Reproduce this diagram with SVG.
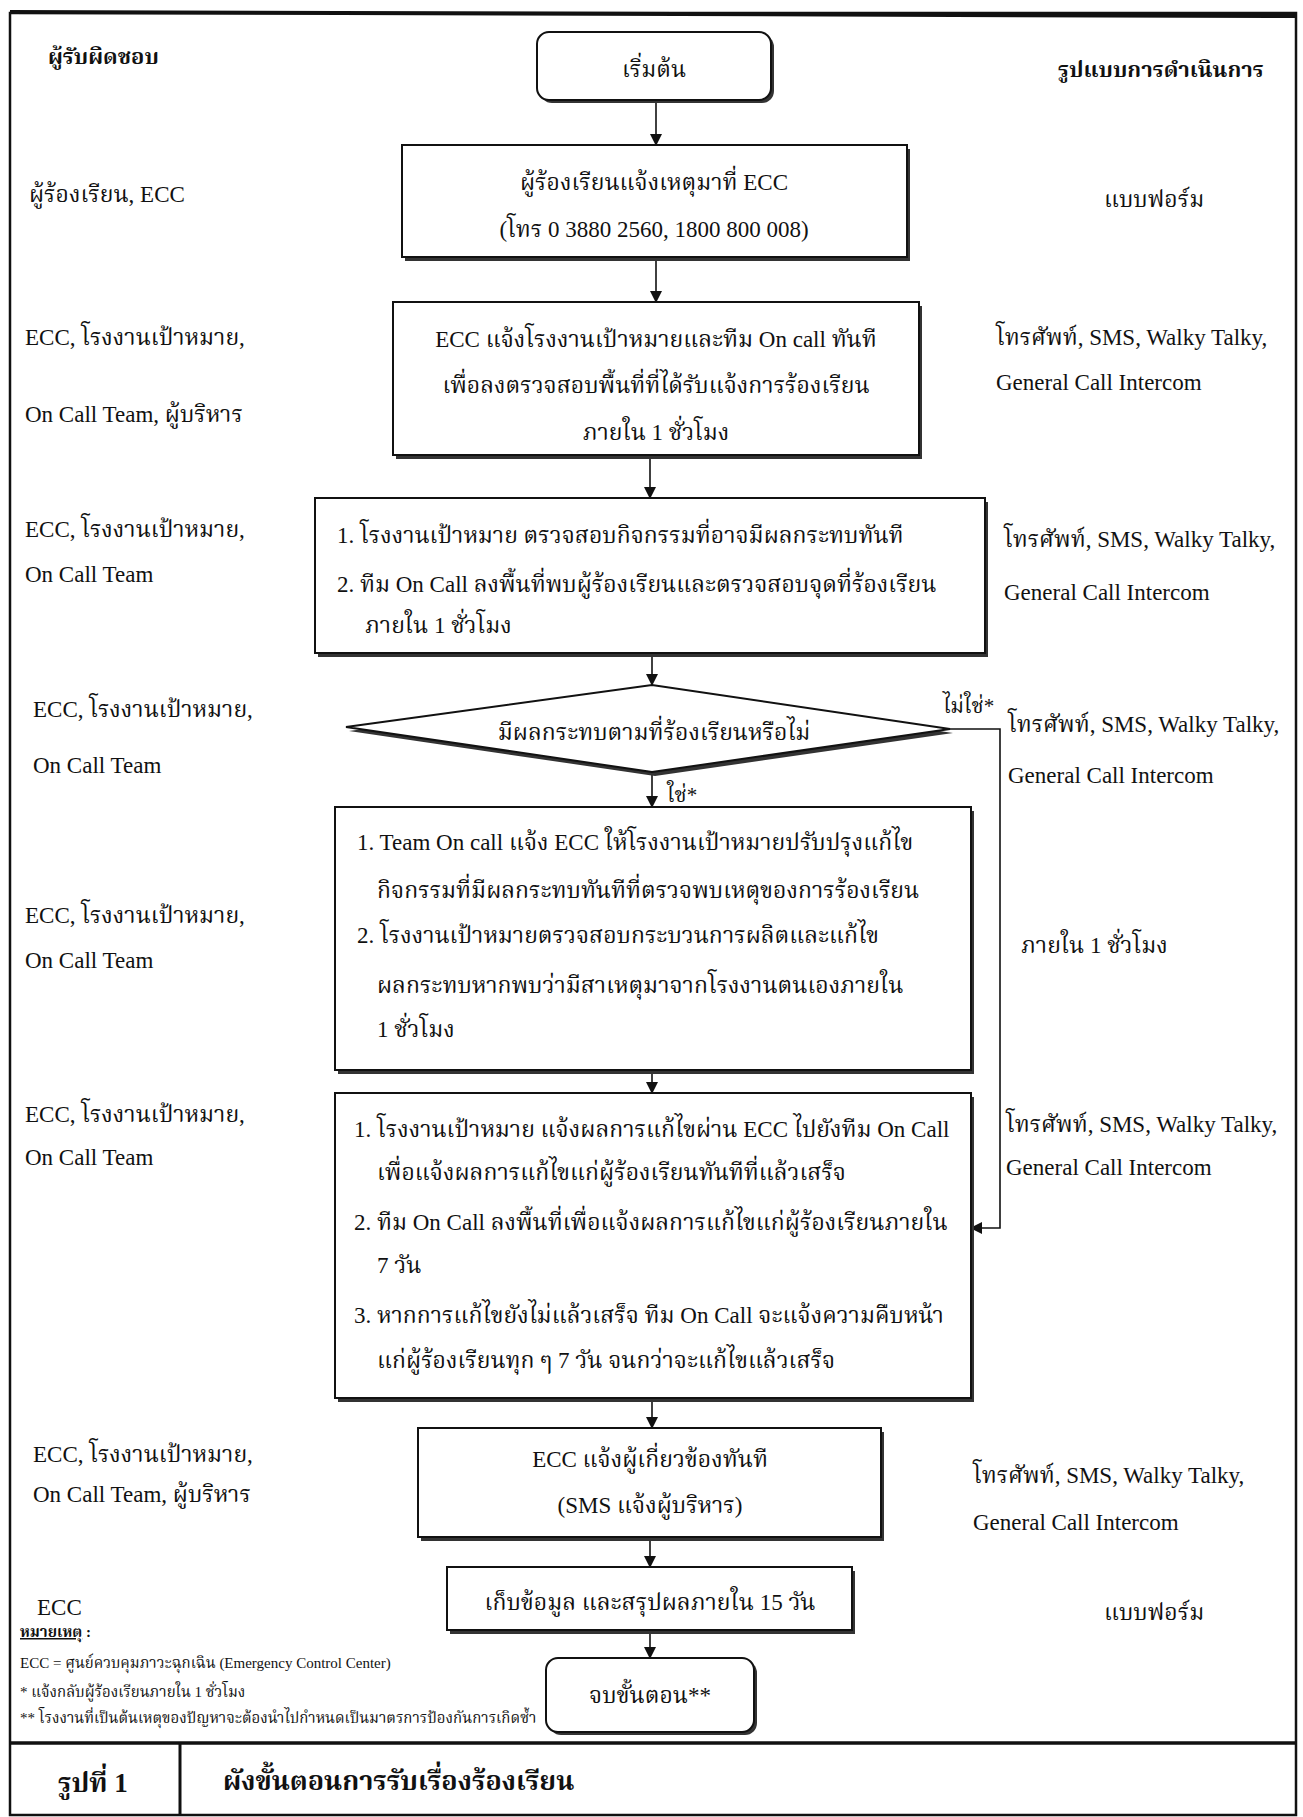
<svg xmlns="http://www.w3.org/2000/svg" width="1303" height="1817" viewBox="0 0 1303 1817">
<defs>
<style>
text{font-family:"Liberation Serif","Noto Serif Thai","Noto Sans Thai","DejaVu Sans",serif;font-size:23px;fill:#111}
.c{text-anchor:middle}
.b{font-weight:bold}
.h{font-size:22px;font-weight:bold}
.n{font-size:15px}
.lb{font-size:21px}
.cap{font-size:27px;font-weight:bold}
.box{fill:#fff;stroke:#111;stroke-width:2}
.sh{fill:#333}
.ln{fill:none;stroke:#111;stroke-width:1.6}
</style>
<marker id="ah" viewBox="0 0 12 12" refX="11" refY="6" markerWidth="12" markerHeight="12" markerUnits="userSpaceOnUse" orient="auto">
<path d="M0,0 L12,6 L0,12 z" fill="#111"/>
</marker>
</defs>
<rect x="0" y="0" width="1303" height="1817" fill="#fff"/>
<g id="frame">
<rect x="10" y="13" width="1286" height="1802" fill="none" stroke="#111" stroke-width="2.5"/>
<line x1="10" y1="12" x2="1296" y2="16" stroke="#111" stroke-width="4"/>
<line x1="10" y1="1743" x2="1296" y2="1743" stroke="#111" stroke-width="3.5"/>
<line x1="180" y1="1743" x2="180" y2="1815" stroke="#111" stroke-width="3"/>
</g>
<g id="headers">
<text x="48" y="64" class="h">ผู้รับผิดชอบ</text>
<text x="1058" y="77" class="h">รูปแบบการดำเนินการ</text>
</g>
<g id="connectors">
<line class="ln" x1="656" y1="100" x2="656" y2="145" marker-end="url(#ah)"/>
<line class="ln" x1="656" y1="257" x2="656" y2="302" marker-end="url(#ah)"/>
<line class="ln" x1="650" y1="455" x2="650" y2="498" marker-end="url(#ah)"/>
<line class="ln" x1="652" y1="653" x2="652" y2="685" marker-end="url(#ah)"/>
<line class="ln" x1="652" y1="772" x2="652" y2="807" marker-end="url(#ah)"/>
<line class="ln" x1="652" y1="1060" x2="652" y2="1093" marker-end="url(#ah)"/>
<line class="ln" x1="652" y1="1398" x2="652" y2="1428" marker-end="url(#ah)"/>
<line class="ln" x1="650" y1="1537" x2="650" y2="1567" marker-end="url(#ah)"/>
<line class="ln" x1="650" y1="1630" x2="650" y2="1658" marker-end="url(#ah)"/>
<path class="ln" d="M950,729 L1000,729 L1000,1228 L971,1228" marker-end="url(#ah)"/>
<text x="943" y="713" class="lb">ไม่ใช่*</text>
<text x="667" y="802" class="lb">ใช่*</text>
</g>
<g id="start">
<rect x="540" y="35" width="234" height="68" rx="12" class="sh"/>
<rect x="537" y="32" width="234" height="68" rx="12" class="box"/>
<text x="654" y="77" class="c">เริ่มต้น</text>
</g>
<g id="report">
<rect x="405" y="149" width="505" height="112" class="sh"/>
<rect x="402" y="145" width="505" height="112" class="box"/>
<text x="654" y="190" class="c">ผู้ร้องเรียนแจ้งเหตุมาที่ ECC</text>
<text x="654" y="237" class="c">(โทร 0 3880 2560, 1800 800 008)</text>
</g>
<g id="notify">
<rect x="396" y="306" width="526" height="153" class="sh"/>
<rect x="393" y="302" width="526" height="153" class="box"/>
<text x="656" y="347" class="c">ECC แจ้งโรงงานเป้าหมายและทีม On call ทันที</text>
<text x="656" y="393" class="c">เพื่อลงตรวจสอบพื้นที่ที่ได้รับแจ้งการร้องเรียน</text>
<text x="656" y="440" class="c">ภายใน 1 ชั่วโมง</text>
</g>
<g id="inspect">
<rect x="318" y="502" width="670" height="155" class="sh"/>
<rect x="315" y="498" width="670" height="155" class="box"/>
<text x="337" y="543">1.  โรงงานเป้าหมาย ตรวจสอบกิจกรรมที่อาจมีผลกระทบทันที</text>
<text x="337" y="592">2.  ทีม On Call  ลงพื้นที่พบผู้ร้องเรียนและตรวจสอบจุดที่ร้องเรียน</text>
<text x="365" y="633">ภายใน 1 ชั่วโมง</text>
</g>
<g id="decision">
<polygon points="349,731 655,689 953,733 655,776" class="sh"/>
<polygon points="346,727 652,685 950,729 652,772" class="box"/>
<text x="654" y="740" class="c">มีผลกระทบตามที่ร้องเรียนหรือไม่</text>
</g>
<g id="fix">
<rect x="338" y="811" width="636" height="263" class="sh"/>
<rect x="335" y="807" width="636" height="263" class="box"/>
<text x="357" y="850">1. Team On call แจ้ง ECC ให้โรงงานเป้าหมายปรับปรุงแก้ไข</text>
<text x="377" y="898">กิจกรรมที่มีผลกระทบทันทีที่ตรวจพบเหตุของการร้องเรียน</text>
<text x="357" y="943">2. โรงงานเป้าหมายตรวจสอบกระบวนการผลิตและแก้ไข</text>
<text x="377" y="993">ผลกระทบหากพบว่ามีสาเหตุมาจากโรงงานตนเองภายใน</text>
<text x="377" y="1037">1 ชั่วโมง</text>
</g>
<g id="feedback">
<rect x="338" y="1097" width="636" height="305" class="sh"/>
<rect x="335" y="1093" width="636" height="305" class="box"/>
<text x="354" y="1137">1. โรงงานเป้าหมาย แจ้งผลการแก้ไขผ่าน ECC ไปยังทีม On Call</text>
<text x="377" y="1180">เพื่อแจ้งผลการแก้ไขแก่ผู้ร้องเรียนทันทีที่แล้วเสร็จ</text>
<text x="354" y="1230">2. ทีม On Call ลงพื้นที่เพื่อแจ้งผลการแก้ไขแก่ผู้ร้องเรียนภายใน</text>
<text x="377" y="1273">7 วัน</text>
<text x="354" y="1323">3. หากการแก้ไขยังไม่แล้วเสร็จ ทีม On Call จะแจ้งความคืบหน้า</text>
<text x="377" y="1368">แก่ผู้ร้องเรียนทุก ๆ 7 วัน จนกว่าจะแก้ไขแล้วเสร็จ</text>
</g>
<g id="inform">
<rect x="421" y="1432" width="463" height="109" class="sh"/>
<rect x="418" y="1428" width="463" height="109" class="box"/>
<text x="650" y="1467" class="c">ECC แจ้งผู้เกี่ยวข้องทันที</text>
<text x="650" y="1513" class="c">(SMS แจ้งผู้บริหาร)</text>
</g>
<g id="collect">
<rect x="450" y="1571" width="405" height="63" class="sh"/>
<rect x="447" y="1567" width="405" height="63" class="box"/>
<text x="650" y="1610" class="c">เก็บข้อมูล และสรุปผลภายใน 15 วัน</text>
</g>
<g id="end">
<rect x="549" y="1661" width="208" height="74" rx="12" class="sh"/>
<rect x="546" y="1658" width="208" height="74" rx="12" class="box"/>
<text x="650" y="1703" class="c">จบขั้นตอน**</text>
</g>
<g id="responsible">
<text x="29" y="202">ผู้ร้องเรียน, ECC</text>
<text x="25" y="345">ECC, โรงงานเป้าหมาย,</text>
<text x="25" y="422">On Call Team, ผู้บริหาร</text>
<text x="25" y="537">ECC, โรงงานเป้าหมาย,</text>
<text x="25" y="582">On Call Team</text>
<text x="33" y="717">ECC, โรงงานเป้าหมาย,</text>
<text x="33" y="773">On Call Team</text>
<text x="25" y="923">ECC, โรงงานเป้าหมาย,</text>
<text x="25" y="968">On Call Team</text>
<text x="25" y="1122">ECC, โรงงานเป้าหมาย,</text>
<text x="25" y="1165">On Call Team</text>
<text x="33" y="1462">ECC, โรงงานเป้าหมาย,</text>
<text x="33" y="1502">On Call Team, ผู้บริหาร</text>
<text x="37" y="1615">ECC</text>
</g>
<g id="methods">
<text x="1104" y="207">แบบฟอร์ม</text>
<text x="996" y="345">โทรศัพท์, SMS, Walky Talky,</text>
<text x="996" y="390">General Call Intercom</text>
<text x="1004" y="547">โทรศัพท์, SMS, Walky Talky,</text>
<text x="1004" y="600">General Call Intercom</text>
<text x="1008" y="732">โทรศัพท์, SMS, Walky Talky,</text>
<text x="1008" y="783">General Call Intercom</text>
<text x="1021" y="953">ภายใน 1 ชั่วโมง</text>
<text x="1006" y="1132">โทรศัพท์, SMS, Walky Talky,</text>
<text x="1006" y="1175">General Call Intercom</text>
<text x="973" y="1483">โทรศัพท์, SMS, Walky Talky,</text>
<text x="973" y="1530">General Call Intercom</text>
<text x="1104" y="1620">แบบฟอร์ม</text>
</g>
<g id="notes">
<text x="20" y="1637" class="n b" text-decoration="underline">หมายเหตุ</text>
<text x="86" y="1637" class="n b">:</text>
<text x="20" y="1668" class="n">ECC = ศูนย์ควบคุมภาวะฉุกเฉิน (Emergency Control Center)</text>
<text x="20" y="1697" class="n">* แจ้งกลับผู้ร้องเรียนภายใน 1 ชั่วโมง</text>
<text x="20" y="1723" class="n">** โรงงานที่เป็นต้นเหตุของปัญหาจะต้องนำไปกำหนดเป็นมาตรการป้องกันการเกิดซ้ำ</text>
</g>
<g id="caption">
<text x="58" y="1792" class="cap">รูปที่ 1</text>
<text x="223" y="1790" class="cap">ผังขั้นตอนการรับเรื่องร้องเรียน</text>
</g>
</svg>
